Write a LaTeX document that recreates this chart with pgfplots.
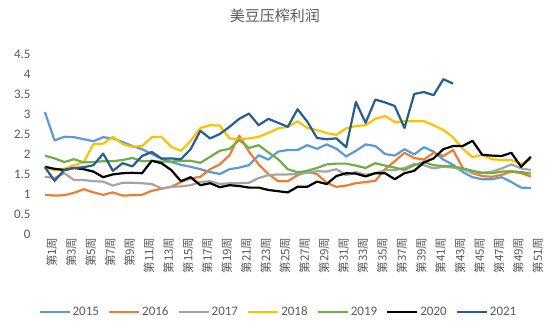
\documentclass[border=0pt]{standalone}
\usepackage{fontspec}
\setmainfont{Carlito}
\newfontfamily\cjk{Noto Sans CJK SC}
\usepackage{pgfplots}
\usepackage{pgfplotstable}
\pgfplotsset{compat=1.18}
\definecolor{cA}{HTML}{5B9BD5}
\definecolor{cB}{HTML}{ED7D31}
\definecolor{cC}{HTML}{A5A5A5}
\definecolor{cD}{HTML}{FFC000}
\definecolor{cE}{HTML}{70AD47}
\definecolor{cF}{HTML}{000000}
\definecolor{cG}{HTML}{255E91}
\definecolor{txt}{HTML}{595959}

\pgfplotstableread{
w v
1 3.05
2 2.34
3 2.43
4 2.42
5 2.37
6 2.32
7 2.42
8 2.39
9 2.30
10 2.20
11 2.12
12 2.00
13 1.88
14 1.80
15 1.73
16 1.68
17 1.62
18 1.55
19 1.50
20 1.62
21 1.66
22 1.72
23 1.97
24 1.86
25 2.06
26 2.10
27 2.10
28 2.22
29 2.13
30 2.24
31 2.13
32 1.94
33 2.08
34 2.24
35 2.20
36 2.00
37 1.96
38 2.12
39 1.99
40 2.17
41 2.06
42 1.86
43 1.73
44 1.55
45 1.42
46 1.37
47 1.37
48 1.42
49 1.30
50 1.16
51 1.15
}\tA

\pgfplotstableread{
w v
1 0.98
2 0.96
3 0.97
4 1.03
5 1.12
6 1.04
7 0.98
8 1.04
9 0.96
10 0.97
11 0.98
12 1.08
13 1.13
14 1.18
15 1.30
16 1.39
17 1.43
18 1.62
19 1.74
20 1.97
21 2.46
22 2.06
23 1.74
24 1.50
25 1.32
26 1.32
27 1.47
28 1.55
29 1.50
30 1.28
31 1.18
32 1.21
33 1.27
34 1.30
35 1.33
36 1.62
37 1.82
38 2.03
39 1.90
40 1.86
41 2.03
42 1.95
43 2.10
44 1.65
45 1.52
46 1.45
47 1.43
48 1.48
49 1.56
50 1.52
51 1.44
}\tB

\pgfplotstableread{
w v
1 1.43
2 1.40
3 1.52
4 1.35
5 1.35
6 1.32
7 1.31
8 1.21
9 1.28
10 1.28
11 1.27
12 1.25
13 1.14
14 1.18
15 1.19
16 1.22
17 1.30
18 1.32
19 1.25
20 1.27
21 1.27
22 1.28
23 1.40
24 1.47
25 1.49
26 1.49
27 1.50
28 1.53
29 1.57
30 1.56
31 1.62
32 1.47
33 1.55
34 1.48
35 1.52
36 1.60
37 1.60
38 1.65
39 1.75
40 1.72
41 1.64
42 1.68
43 1.66
44 1.62
45 1.54
46 1.53
47 1.56
48 1.64
49 1.74
50 1.64
51 1.60
}\tC

\pgfplotstableread{
w v
1 1.66
2 1.60
3 1.63
4 1.72
5 1.80
6 2.25
7 2.26
8 2.43
9 2.25
10 2.18
11 2.20
12 2.42
13 2.43
14 2.18
15 2.08
16 2.33
17 2.65
18 2.72
19 2.71
20 2.39
21 2.37
22 2.39
23 2.43
24 2.53
25 2.64
26 2.68
27 2.82
28 2.65
29 2.60
30 2.52
31 2.48
32 2.64
33 2.70
34 2.72
35 2.88
36 2.95
37 2.80
38 2.82
39 2.82
40 2.82
41 2.72
42 2.60
43 2.42
44 2.13
45 1.92
46 1.98
47 1.87
48 1.85
49 1.85
50 1.75
51 1.87
}\tD

\pgfplotstableread{
w v
1 1.96
2 1.89
3 1.80
4 1.87
5 1.79
6 1.80
7 1.82
8 1.82
9 1.85
10 1.90
11 1.82
12 1.83
13 1.81
14 1.81
15 1.83
16 1.83
17 1.78
18 1.93
19 2.08
20 2.13
21 2.35
22 2.15
23 2.22
24 2.04
25 1.87
26 1.62
27 1.54
28 1.58
29 1.65
30 1.74
31 1.76
32 1.76
33 1.71
34 1.65
35 1.77
36 1.71
37 1.66
38 1.60
39 1.72
40 1.80
41 1.72
42 1.70
43 1.69
44 1.64
45 1.58
46 1.53
47 1.52
48 1.56
49 1.57
50 1.55
51 1.51
}\tE

\pgfplotstableread{
w v
1 1.68
2 1.63
3 1.60
4 1.65
5 1.62
6 1.56
7 1.42
8 1.49
9 1.52
10 1.53
11 1.52
12 1.83
13 1.77
14 1.60
15 1.32
16 1.42
17 1.22
18 1.27
19 1.17
20 1.22
21 1.20
22 1.16
23 1.16
24 1.10
25 1.07
26 1.04
27 1.18
28 1.18
29 1.31
30 1.25
31 1.45
32 1.52
33 1.51
34 1.44
35 1.52
36 1.52
37 1.37
38 1.52
39 1.58
40 1.79
41 1.89
42 2.12
43 2.20
44 2.20
45 2.33
46 1.98
47 1.96
48 1.95
49 2.03
50 1.68
51 1.93
}\tF

\pgfplotstableread{
w v
1 1.67
2 1.33
3 1.60
4 1.65
5 1.67
6 1.72
7 2.01
8 1.58
9 1.77
10 1.69
11 1.95
12 2.05
13 1.89
14 1.89
15 1.87
16 2.12
17 2.58
18 2.39
19 2.50
20 2.68
21 2.88
22 3.01
23 2.72
24 2.88
25 2.78
26 2.68
27 3.12
28 2.81
29 2.40
30 2.37
31 2.39
32 2.17
33 3.30
34 2.78
35 3.36
36 3.29
37 3.20
38 2.65
39 3.50
40 3.55
41 3.47
42 3.87
43 3.76
}\tG

\begin{document}
\begin{tikzpicture}
\begin{axis}[
  scale only axis, width=505pt, height=180pt,
  xmin=0.5, xmax=52.46, ymin=0, ymax=4.5,
  ytick={0,0.5,...,4.5},
  xtick={1,3,...,51},
  xticklabels={第1周,第3周,第5周,第7周,第9周,第11周,第13周,第15周,第17周,第19周,第21周,第23周,第25周,第27周,第29周,第31周,第33周,第35周,第37周,第39周,第41周,第43周,第45周,第47周,第49周,第51周},
  xticklabel style={rotate=90, anchor=east, font=\cjk\fontsize{11.5}{12}\selectfont, text=txt, yshift=-7pt},
  yticklabel style={font=\fontsize{13}{14}\selectfont, text=txt, xshift=-6pt},
  /pgf/number format/assume math mode=true,
  axis line style={draw=none},
  major tick length=0pt,
  title={\cjk 美豆压榨利润},
  title style={at={(axis description cs:0.465,1)}, anchor=center, yshift=32pt, font=\fontsize{15}{16}\selectfont, text=txt},
  legend columns=7,
  legend style={draw=none, fill=none, at={(axis description cs:0.472,-0.433)}, anchor=center,
    font=\fontsize{13}{14}\selectfont, text=txt,
    /tikz/every even column/.append style={column sep=7pt}},
  legend image code/.code={\draw[#1, line width=2.2pt] (0pt,0pt) -- (30pt,0pt);},
  every axis plot/.append style={line width=2.2pt, line join=round, no markers},
]
\addplot[cA] table[x=w,y=v]{\tA};
\addlegendentry{2015}
\addplot[cB] table[x=w,y=v]{\tB};
\addlegendentry{2016}
\addplot[cC] table[x=w,y=v]{\tC};
\addlegendentry{2017}
\addplot[cD] table[x=w,y=v]{\tD};
\addlegendentry{2018}
\addplot[cE] table[x=w,y=v]{\tE};
\addlegendentry{2019}
\addplot[cF] table[x=w,y=v]{\tF};
\addlegendentry{2020}
\addplot[cG] table[x=w,y=v]{\tG};
\addlegendentry{2021}
\end{axis}
\pgfresetboundingbox
\path (-40pt,-96pt) rectangle (510pt,234pt);
\end{tikzpicture}
\end{document}
